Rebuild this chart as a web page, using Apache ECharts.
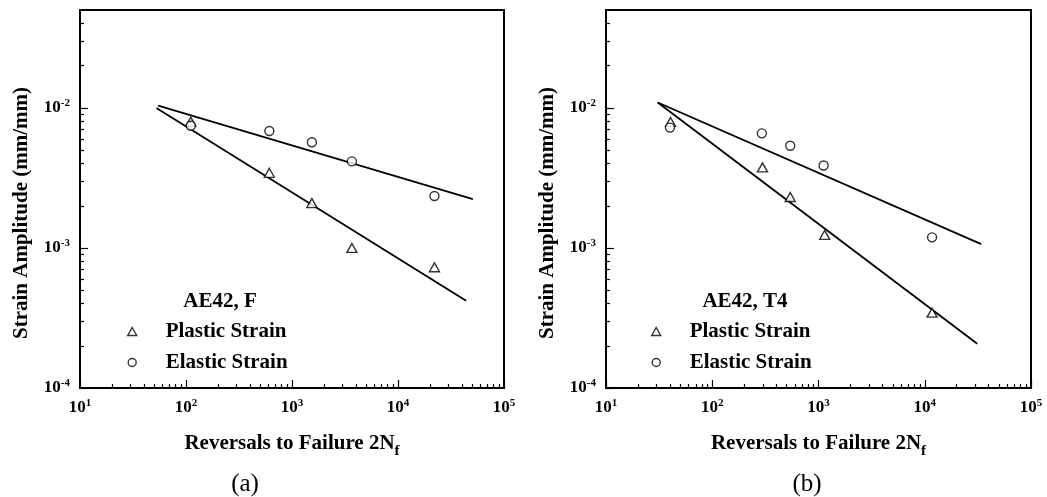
<!DOCTYPE html>
<html>
<head>
<meta charset="utf-8">
<script src="https://cdn.jsdelivr.net/npm/echarts@6/dist/echarts.min.js"></script>
<style>
  html, body { margin: 0; padding: 0; background: #fff; }
  #chart { width: 1047px; height: 497px; }
</style>
</head>
<body>
<div id="chart"></div>
<script type="text/javascript">
  // tick values
  var xMajorTicks = [10, 100, 1000, 10000, 100000];
  var yMajorTicks = [0.0001, 0.001, 0.01];
  var xMinorTicks = [];
  var yMinorTicks = [];
  for (var d = 1; d <= 4; d++) {
    for (var k = 2; k <= 9; k++) {
      xMinorTicks.push(k * Math.pow(10, d));
    }
  }
  for (var d2 = -4; d2 <= -2; d2++) {
    for (var k2 = 2; k2 <= 9; k2++) {
      var v = k2 * Math.pow(10, d2);
      if (v < 0.05) yMinorTicks.push(v);
    }
  }

  // (a) AE42, F
  var cyclesA = [111, 611, 1541, 3673, 22080];
  var elasticA = [0.00746, 0.00684, 0.00568, 0.00415, 0.00235];
  var plasticA = [0.00798, 0.00344, 0.00209, 0.00100, 0.000728];
  var elasticFitA = [[54.6, 0.01039], [50800, 0.00223]];
  var plasticFitA = [[52.6, 0.0100], [43950, 0.00042]];

  // (b) AE42, T4
  var cyclesElasticB = [40, 293, 542, 1117, 11720];
  var elasticB = [0.00723, 0.00658, 0.00537, 0.00388, 0.00119];
  var cyclesPlasticB = [40.5, 297, 542, 1143, 11720];
  var plasticB = [0.00794, 0.00376, 0.00231, 0.00124, 0.000345];
  var elasticFitB = [[30.7, 0.01092], [33970, 0.001064]];
  var plasticFitB = [[30.7, 0.01092], [31200, 0.000207]];

  var serif = '"Liberation Serif", "DejaVu Serif", serif';

  function pairs(xs, ys) {
    var out = [];
    for (var i = 0; i < xs.length; i++) out.push([xs[i], ys[i]]);
    return out;
  }

  function powLabel(value) {
    var e = Math.log10(value);
    if (Math.abs(e - Math.round(e)) > 1e-6) return '';
    return '{b|10}{e|' + Math.round(e) + '}';
  }

  var labelRich = {
    b: { fontFamily: serif, fontWeight: 'bold', fontSize: 17, color: '#000', lineHeight: 20 },
    e: { fontFamily: serif, fontWeight: 'bold', fontSize: 11, color: '#000', verticalAlign: 'top', lineHeight: 13 }
  };

  function makeAxes(gi) {
    var xs = [
      {
        type: 'log', logBase: 10, gridIndex: gi, min: 10, max: 100000, position: 'bottom',
        axisLine: { lineStyle: { color: '#000', width: 2 } },
        axisTick: { inside: true, length: 8, lineStyle: { color: '#000', width: 1.2 }, customValues: xMajorTicks },
        axisLabel: { margin: 10, formatter: powLabel, rich: labelRich, customValues: xMajorTicks },
        splitLine: { show: false },
        name: '{a|Reversals to Failure 2N}{s|f}',
        nameLocation: 'middle', nameGap: 40,
        nameTextStyle: {
          rich: {
            a: { fontFamily: serif, fontWeight: 'bold', fontSize: 21, color: '#000' },
            s: { fontFamily: serif, fontWeight: 'bold', fontSize: 15, color: '#000', padding: [16, 0, 0, 0] }
          }
        }
      },
      {
        type: 'log', logBase: 10, gridIndex: gi, min: 10, max: 100000, position: 'bottom',
        axisLine: { show: false },
        axisTick: { inside: true, length: 4, lineStyle: { color: '#000', width: 1.2 }, customValues: xMinorTicks },
        axisLabel: { show: false },
        splitLine: { show: false }
      }
    ];
    var ys = [
      {
        type: 'log', logBase: 10, gridIndex: gi, min: 0.0001, max: 0.05, position: 'left',
        axisLine: { lineStyle: { color: '#000', width: 2 } },
        axisTick: { inside: true, length: 8, lineStyle: { color: '#000', width: 1.2 }, customValues: yMajorTicks },
        axisLabel: { margin: 10, formatter: powLabel, rich: labelRich, customValues: yMajorTicks },
        splitLine: { show: false },
        name: 'Strain Amplitude (mm/mm)',
        nameLocation: 'middle', nameGap: 48,
        nameTextStyle: { fontFamily: serif, fontWeight: 'bold', fontSize: 21, color: '#000', padding: [0, 28, 0, 0] }
      },
      {
        type: 'log', logBase: 10, gridIndex: gi, min: 0.0001, max: 0.05, position: 'left',
        axisLine: { show: false },
        axisTick: { inside: true, length: 4, lineStyle: { color: '#000', width: 1.2 }, customValues: yMinorTicks },
        axisLabel: { show: false },
        splitLine: { show: false }
      }
    ];
    return { x: xs, y: ys };
  }

  var axesA = makeAxes(0);
  var axesB = makeAxes(1);

  function scatter(name, symbol, xi, yi, data) {
    return {
      name: name, type: 'scatter', xAxisIndex: xi, yAxisIndex: yi,
      symbol: symbol, symbolSize: symbol === 'triangle' ? [10, 9] : 9,
      itemStyle: { color: '#fff', borderColor: '#000', borderWidth: 1.4 },
      data: data, z: 5, silent: true
    };
  }
  function fit(name, xi, yi, data) {
    return {
      name: name, type: 'line', xAxisIndex: xi, yAxisIndex: yi,
      symbol: 'none', lineStyle: { color: '#000', width: 1.8 },
      data: data, z: 3, silent: true
    };
  }

  function legendAt(left) {
    return {
      orient: 'vertical', left: left, top: 316, itemGap: 10,
      itemWidth: 9, itemHeight: 8,
      data: [{ name: 'Plastic Strain', icon: 'triangle' }, { name: 'Elastic Strain', icon: 'circle' }],
      itemStyle: { color: '#fff', borderColor: '#000', borderWidth: 1.4 },
      textStyle: { fontFamily: serif, fontWeight: 'bold', fontSize: 21, color: '#000', padding: [0, 0, 0, 24], lineHeight: 20 },
      selectedMode: false
    };
  }

  function caption(text, x, y, size, bold) {
    return {
      type: 'text', x: x, y: y,
      style: {
        text: text, align: 'center', verticalAlign: 'middle',
        font: (bold ? 'bold ' : '') + size + 'px ' + serif, fill: '#000'
      }
    };
  }

  var chart = echarts.init(document.getElementById('chart'), null, { renderer: 'canvas' });
  var option = {
    animation: false,
    backgroundColor: '#fff',
    grid: [
      { left: 80, top: 10, width: 424, height: 378, show: true, borderColor: '#000', borderWidth: 2, containLabel: false },
      { left: 606, top: 10, width: 425, height: 378, show: true, borderColor: '#000', borderWidth: 2, containLabel: false }
    ],
    xAxis: axesA.x.concat(axesB.x),
    yAxis: axesA.y.concat(axesB.y),
    legend: [legendAt(122), legendAt(646)],
    series: [
      fit('Elastic fit (a)', 0, 0, elasticFitA),
      fit('Plastic fit (a)', 0, 0, plasticFitA),
      scatter('Plastic Strain', 'triangle', 0, 0, pairs(cyclesA, plasticA)),
      scatter('Elastic Strain', 'circle', 0, 0, pairs(cyclesA, elasticA)),
      fit('Elastic fit (b)', 2, 2, elasticFitB),
      fit('Plastic fit (b)', 2, 2, plasticFitB),
      scatter('Plastic Strain', 'triangle', 2, 2, pairs(cyclesPlasticB, plasticB)),
      scatter('Elastic Strain', 'circle', 2, 2, pairs(cyclesElasticB, elasticB))
    ],
    graphic: [
      caption('AE42, F', 220, 302, 21, true),
      caption('AE42, T4', 745, 302, 21, true),
      caption('(a)', 245, 484, 25, false),
      caption('(b)', 807, 484, 25, false)
    ]
  };
  chart.setOption(option);
</script>
</body>
</html>
